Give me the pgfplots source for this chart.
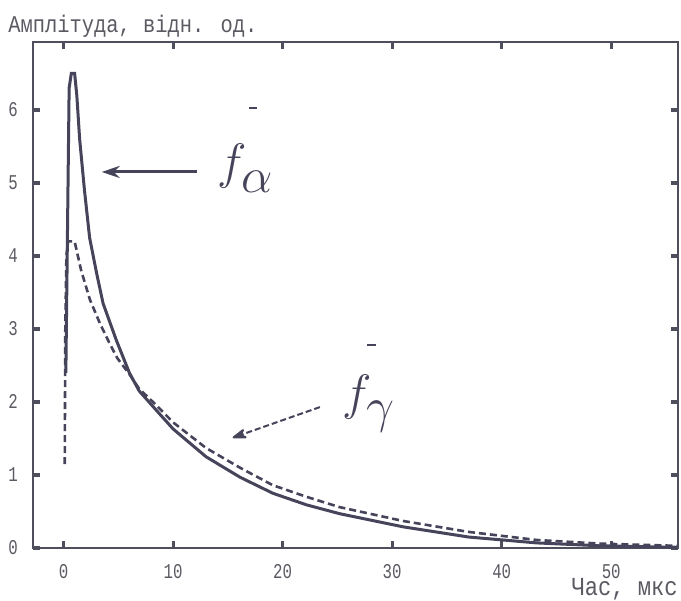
\documentclass[border=0pt]{standalone}
\usepackage{fontspec}
\usepackage{pgfplots}
\pgfplotsset{compat=1.18}
\usetikzlibrary{arrows.meta}
\newfontfamily\tickfont[FakeStretch=0.75]{Liberation Mono}
\newfontfamily\labfont[FakeStretch=0.85]{Liberation Mono}
\definecolor{curve}{HTML}{45445A}
\definecolor{axgray}{HTML}{4E4E5C}
\definecolor{txtgray}{HTML}{5A5A62}

\begin{document}
\begin{tikzpicture}
  \begin{axis}[
      name=ax,
      scale only axis,
      width=322.5pt,height=253pt,
      xmin=-2.8,xmax=56.1,
      ymin=0,ymax=6.93,
      xtick={0,10,20,30,40,50},
      ytick={0,1,2,3,4,5,6},
      xtick pos=both,ytick pos=both,
      tick align=inside,
      major tick length=3.5pt,
      axis line style={axgray,line width=1pt},
      every tick/.append style={axgray,line width=1.6pt},
      /pgf/number format/assume math mode=true,
      tick label style={font=\tickfont\fontsize{10.5}{10.5}\selectfont,text=txtgray},
      yticklabel style={xshift=-4pt},
      xticklabel style={yshift=-4.5pt},
      clip=false]
    % f_alpha (solid)
    \addplot[curve,line width=1.5pt] coordinates {
      (0.2,2.4)(0.4,5.0)(0.5,6.3)(0.7,6.5)(1.0,6.5)(1.2,6.2)
      (1.46,5.6)(1.9,4.9)(2.37,4.25)(3.0,3.77)(3.6,3.35)(4.8,2.85)
      (6.0,2.4)(6.9,2.15)(8.5,1.88)(10,1.63)(13,1.25)(16.1,0.97)
      (19.1,0.75)(22.2,0.59)(25.2,0.47)(31,0.29)(37,0.15)(43.2,0.07)
      (49,0.03)(56,0.01)};
    % f_gamma (dashed)
    \addplot[curve,line width=1.3pt,dash pattern=on 3.5pt off 2pt] coordinates {
      (0.1,1.15)(0.15,3.0)(0.25,4.0)(0.4,4.2)(1.0,4.2)(1.6,3.8)
      (2.4,3.4)(3.3,3.08)(4.2,2.8)(4.9,2.6)(6.0,2.38)(6.9,2.18)
      (8.5,1.95)(10,1.72)(13,1.37)(16.1,1.1)(19.1,0.86)(22.2,0.7)
      (25.2,0.56)(31,0.37)(37,0.22)(43.2,0.11)(49,0.06)(56,0.03)};

    \draw[curve,line width=1.5pt,-{Stealth[length=9pt,width=6pt]}]
      (axis cs:12.15,5.15) -- (axis cs:3.47,5.15);
    \draw[curve,line width=1pt,dash pattern=on 3pt off 1.5pt,-{Stealth[length=9pt,width=6pt,round]}]
      (axis cs:23.4,1.93) -- (axis cs:15.43,1.51);
    \node[curve] at (axis cs:16.6,5.2)
      {\fontsize{24}{24}\selectfont$f_{\raisebox{-3pt}{$\textstyle\alpha$}}$};
    \draw[curve,line width=1.2pt] (axis cs:16.95,6.03) -- (axis cs:17.7,6.03);
    \node[curve] at (axis cs:27.85,1.98)
      {\fontsize{24}{24}\selectfont$f_{\raisebox{-3pt}{$\textstyle\gamma$}}$};
    \draw[curve,line width=1.2pt] (axis cs:27.7,2.78) -- (axis cs:28.5,2.78);

    \node[anchor=base west,text=txtgray,inner sep=0pt]
      at ([xshift=-12.5pt,yshift=4.5pt]rel axis cs:0,1)
      {\labfont\fontsize{12}{12}\selectfont Амплітуда, відн. од.};
    \node[anchor=base east,text=txtgray,inner sep=0pt]
      at ([yshift=-23.5pt]rel axis cs:1,0)
      {\labfont\fontsize{13}{13}\selectfont Час, мкс};
  \end{axis}
  \path ([xshift=-16.5pt,yshift=-26pt]ax.south west) rectangle ([xshift=1.5pt,yshift=21pt]ax.north east);
\end{tikzpicture}
\end{document}
